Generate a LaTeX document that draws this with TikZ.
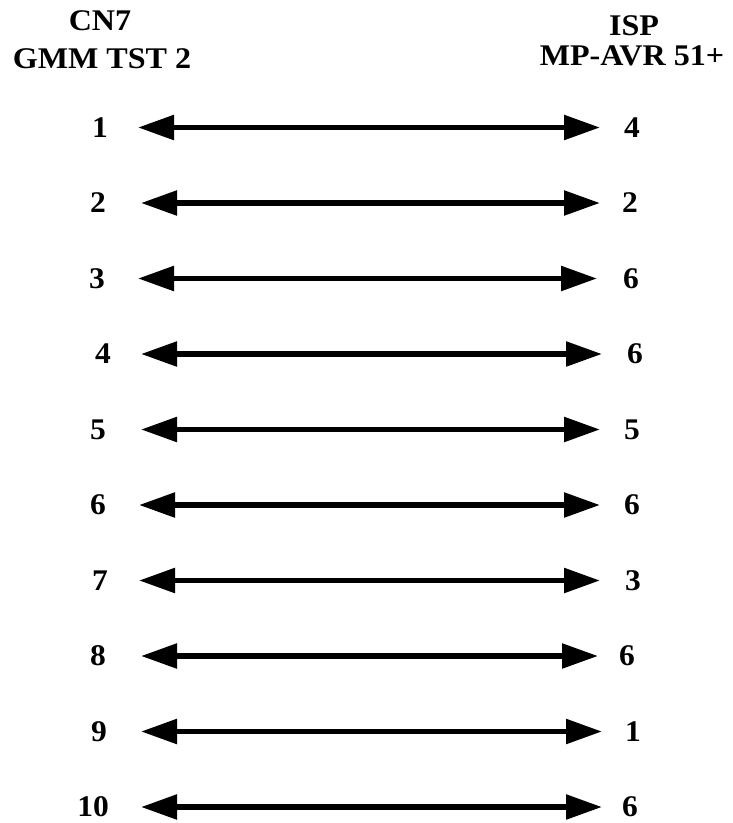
\documentclass[tikz,border=0pt]{standalone}
\usepackage{fontspec}
\setmainfont{Liberation Serif}
\usetikzlibrary{arrows.meta}
\begin{document}
\begin{tikzpicture}[x=1pt,y=-1pt,
  lab/.style={inner sep=0pt,xscale=1.05,font=\fontsize{30}{32}\selectfont\bfseries},
  ttl/.style={inner sep=0pt,align=center,xscale=1.07,font=\fontsize{30}{37}\selectfont\bfseries},
  wire/.style={line width=5.5pt,{Triangle[length=36pt,width=24pt]}-{Triangle[length=36pt,width=24pt]}}]
\useasboundingbox (0,0) rectangle (732,823);
\node[ttl,anchor=base] (t1a) at (100,30) {CN7};
\node[ttl,anchor=base] (t1b) at (102,68) {GMM TST 2};
\node[ttl,anchor=base] (t2a) at (634,35) {ISP};
\node[ttl,anchor=base] (t2b) at (632,65) {MP-AVR 51+};
\foreach \i/\lx/\lt/\ltip/\rtip/\rx/\rt in {
  1/100/1/138/600/632/4,
  2/98/2/141/600/630/2,
  3/97/3/138/597/631/6,
  4/103/4/141/602/635/6,
  5/98/5/141/600/632/5,
  6/98/6/139/600/632/6,
  7/100/7/139/600/633/3,
  8/98/8/141/598/627/6,
  9/99/9/141/602/633/1,
  10/93/10/141/602/630/6}{
  \pgfmathsetmacro{\yy}{127.5+75.5*(\i-1)}
  \node[lab] (L\i) at (\lx,\yy) {\lt};
  \node[lab] (R\i) at (\rx,\yy) {\rt};
  \coordinate (a\i) at (\ltip,\yy);
  \coordinate (b\i) at (\rtip,\yy);
  \draw[wire] (a\i) -- (b\i);
}
\end{tikzpicture}
\end{document}
